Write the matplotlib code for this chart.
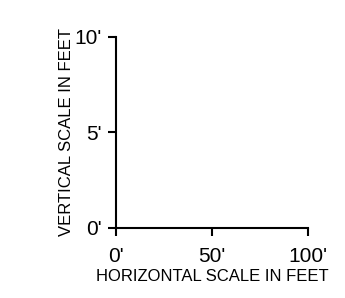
import matplotlib.pyplot as plt

plt.rcParams['font.family'] = ['Liberation Sans', 'DejaVu Sans']

x_ticks = [0, 50, 100]
x_labels = ["0'", "50'", "100'"]
y_ticks = [0, 5, 10]
y_labels = ["0'", "5'", "10'"]

fig = plt.figure(figsize=(3.45, 2.98), dpi=100)
ax = fig.add_axes([0.336, 0.235, 0.557, 0.641])

ax.set_xlim(0, 100)
ax.set_ylim(0, 10)
ax.spines['top'].set_visible(False)
ax.spines['right'].set_visible(False)
for s in ['left', 'bottom']:
    ax.spines[s].set_linewidth(1.5)

ax.set_xticks(x_ticks)
ax.set_xticklabels(x_labels)
ax.set_yticks(y_ticks)
ax.set_yticklabels(y_labels)
ax.tick_params(direction='out', length=6, width=1.5, labelsize=15)
ax.tick_params(axis='x', pad=8)
ax.tick_params(axis='y', pad=4)

ax.set_xlabel('HORIZONTAL SCALE IN FEET', fontsize=12, labelpad=2)
ax.set_ylabel('VERTICAL SCALE IN FEET', fontsize=12, labelpad=0.5)

fig.savefig('out.png', dpi=100)
